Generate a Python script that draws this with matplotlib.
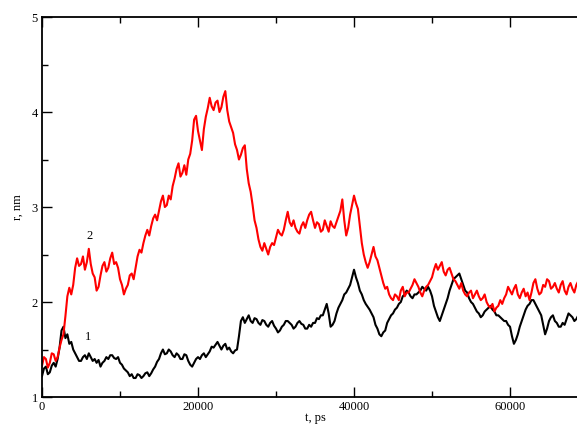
import matplotlib

matplotlib.use("Agg")
import matplotlib.pyplot as plt
import numpy as np
from matplotlib.ticker import MultipleLocator

# time step between the read-off samples, ps
T_STEP = 250

# curve 1 (black), r in nm, one value every 250 ps from t = 0
r1 = [
    1.22, 1.30, 1.32, 1.24, 1.26, 1.33, 1.36, 1.32, 1.40, 1.52,
    1.70, 1.74, 1.62, 1.66, 1.56, 1.58, 1.50, 1.46, 1.42, 1.38,
    1.38, 1.42, 1.44, 1.40, 1.46, 1.42, 1.38, 1.40, 1.36, 1.39,
    1.32, 1.36, 1.38, 1.42, 1.40, 1.44, 1.44, 1.41, 1.40, 1.42,
    1.36, 1.34, 1.30, 1.28, 1.26, 1.22, 1.24, 1.20, 1.20, 1.24,
    1.23, 1.20, 1.22, 1.25, 1.26, 1.22, 1.25, 1.29, 1.32, 1.37,
    1.40, 1.46, 1.50, 1.45, 1.46, 1.50, 1.48, 1.44, 1.42, 1.46,
    1.44, 1.40, 1.40, 1.45, 1.44, 1.38, 1.34, 1.32, 1.36, 1.40,
    1.42, 1.40, 1.44, 1.46, 1.42, 1.45, 1.48, 1.53, 1.52, 1.55,
    1.58, 1.54, 1.50, 1.54, 1.56, 1.50, 1.52, 1.48, 1.46, 1.49,
    1.50, 1.64, 1.80, 1.84, 1.78, 1.82, 1.86, 1.80, 1.78, 1.83,
    1.82, 1.78, 1.76, 1.81, 1.80, 1.76, 1.74, 1.78, 1.80, 1.75,
    1.72, 1.68, 1.70, 1.74, 1.76, 1.80, 1.80, 1.78, 1.76, 1.72,
    1.74, 1.78, 1.80, 1.77, 1.76, 1.72, 1.72, 1.76, 1.74, 1.78,
    1.78, 1.83, 1.82, 1.86, 1.86, 1.92, 1.98, 1.88, 1.74, 1.76,
    1.80, 1.88, 1.94, 1.98, 2.02, 2.08, 2.10, 2.14, 2.18, 2.26,
    2.34, 2.26, 2.20, 2.12, 2.08, 2.02, 1.98, 1.95, 1.92, 1.88,
    1.84, 1.76, 1.72, 1.66, 1.64, 1.68, 1.70, 1.78, 1.82, 1.86,
    1.88, 1.92, 1.94, 1.98, 2.00, 2.06, 2.08, 2.12, 2.10, 2.06,
    2.04, 2.08, 2.08, 2.10, 2.12, 2.16, 2.14, 2.12, 2.16, 2.12,
    2.06, 1.96, 1.90, 1.84, 1.80, 1.86, 1.92, 1.98, 2.04, 2.12,
    2.18, 2.24, 2.26, 2.28, 2.30, 2.24, 2.18, 2.12, 2.10, 2.04,
    2.00, 1.98, 1.94, 1.90, 1.88, 1.84, 1.86, 1.90, 1.92, 1.94,
    1.96, 1.92, 1.90, 1.86, 1.86, 1.84, 1.82, 1.80, 1.80, 1.76,
    1.74, 1.64, 1.56, 1.60, 1.66, 1.74, 1.80, 1.86, 1.92, 1.96,
    1.98, 2.02, 2.02, 1.98, 1.94, 1.90, 1.86, 1.76, 1.66, 1.72,
    1.80, 1.84, 1.86, 1.80, 1.78, 1.74, 1.74, 1.78, 1.76, 1.82,
    1.88, 1.86, 1.84, 1.80, 1.82, 1.86, 1.86, 1.82, 1.80, 1.83,
    1.84,
]

# curve 2 (red)
r2 = [
    1.33, 1.42, 1.40, 1.31, 1.36, 1.46, 1.45, 1.38, 1.42, 1.52,
    1.60, 1.66, 1.85, 2.06, 2.15, 2.08, 2.18, 2.36, 2.46, 2.38,
    2.40, 2.48, 2.34, 2.42, 2.56, 2.40, 2.30, 2.26, 2.12, 2.16,
    2.28, 2.38, 2.42, 2.32, 2.36, 2.46, 2.52, 2.40, 2.42, 2.36,
    2.24, 2.18, 2.08, 2.14, 2.18, 2.28, 2.30, 2.24, 2.36, 2.48,
    2.55, 2.52, 2.62, 2.70, 2.76, 2.70, 2.80, 2.88, 2.92, 2.86,
    2.96, 3.06, 3.12, 3.00, 3.02, 3.12, 3.08, 3.22, 3.30, 3.40,
    3.46, 3.32, 3.36, 3.44, 3.34, 3.50, 3.56, 3.70, 3.92, 3.96,
    3.80, 3.70, 3.60, 3.82, 3.95, 4.04, 4.15, 4.06, 4.02, 4.10,
    4.12, 4.00, 4.05, 4.16, 4.22, 4.02, 3.90, 3.84, 3.78, 3.66,
    3.60, 3.50, 3.55, 3.62, 3.65, 3.40, 3.25, 3.16, 3.02, 2.86,
    2.78, 2.66, 2.58, 2.54, 2.62, 2.56, 2.50, 2.58, 2.62, 2.60,
    2.68, 2.76, 2.72, 2.70, 2.76, 2.86, 2.95, 2.84, 2.80, 2.86,
    2.78, 2.74, 2.72, 2.80, 2.84, 2.78, 2.86, 2.92, 2.95, 2.86,
    2.78, 2.84, 2.82, 2.74, 2.76, 2.86, 2.80, 2.74, 2.85, 2.80,
    2.78, 2.84, 2.90, 2.96, 3.08, 2.86, 2.70, 2.78, 2.92, 3.02,
    3.12, 3.04, 2.98, 2.80, 2.62, 2.50, 2.42, 2.36, 2.42, 2.50,
    2.58, 2.48, 2.44, 2.36, 2.28, 2.20, 2.14, 2.16, 2.08, 2.04,
    2.02, 2.08, 2.06, 2.02, 2.12, 2.16, 2.06, 2.10, 2.10, 2.14,
    2.18, 2.24, 2.20, 2.16, 2.10, 2.06, 2.12, 2.16, 2.18, 2.22,
    2.26, 2.34, 2.40, 2.34, 2.38, 2.42, 2.32, 2.28, 2.34, 2.36,
    2.30, 2.24, 2.22, 2.18, 2.14, 2.20, 2.12, 2.08, 2.06, 2.10,
    2.12, 2.04, 2.08, 2.12, 2.06, 2.02, 2.04, 2.08, 2.00, 1.96,
    1.94, 1.98, 1.90, 1.94, 1.96, 2.02, 1.98, 2.04, 2.08, 2.16,
    2.12, 2.08, 2.14, 2.18, 2.08, 2.04, 2.10, 2.14, 2.06, 2.10,
    2.02, 2.10, 2.20, 2.24, 2.14, 2.08, 2.10, 2.18, 2.16, 2.24,
    2.22, 2.14, 2.16, 2.20, 2.14, 2.10, 2.18, 2.22, 2.12, 2.08,
    2.16, 2.20, 2.14, 2.10, 2.18, 2.22, 2.15, 2.12, 2.17, 2.21,
    2.16,
]

t1 = T_STEP * np.arange(len(r1))
t2 = T_STEP * np.arange(len(r2))

plt.rcParams["font.family"] = "Liberation Serif"
plt.rcParams["font.size"] = 9

fig = plt.figure(figsize=(5.77, 4.30), dpi=100)
# the original picture is cut on the right: the axes run past the figure edge
ax = fig.add_axes([0.0728, 0.0767, 0.9463, 0.8837])

ax.plot(t1, r1, color="black", lw=1.5)
ax.plot(t2, r2, color="#ff0000", lw=1.5)

ax.text(5900, 1.63, "1", fontsize=9, ha="center", va="center")
ax.text(6150, 2.70, "2", fontsize=9, ha="center", va="center")

ax.set_xlim(0, 70000)
ax.set_ylim(1, 5)
ax.xaxis.set_major_locator(MultipleLocator(20000))
ax.xaxis.set_minor_locator(MultipleLocator(10000))
ax.yaxis.set_major_locator(MultipleLocator(1))
ax.yaxis.set_minor_locator(MultipleLocator(0.5))
ax.tick_params(which="both", direction="in", top=True, right=True, width=1.0)
ax.tick_params(which="major", length=7.5, pad=3)
ax.tick_params(which="minor", length=4)
for s in ax.spines.values():
    s.set_linewidth(1.3)

ax.set_xlabel("t, ps", labelpad=-1)
ax.set_ylabel("r, nm", labelpad=6)

fig.savefig("out.png", dpi=100)
